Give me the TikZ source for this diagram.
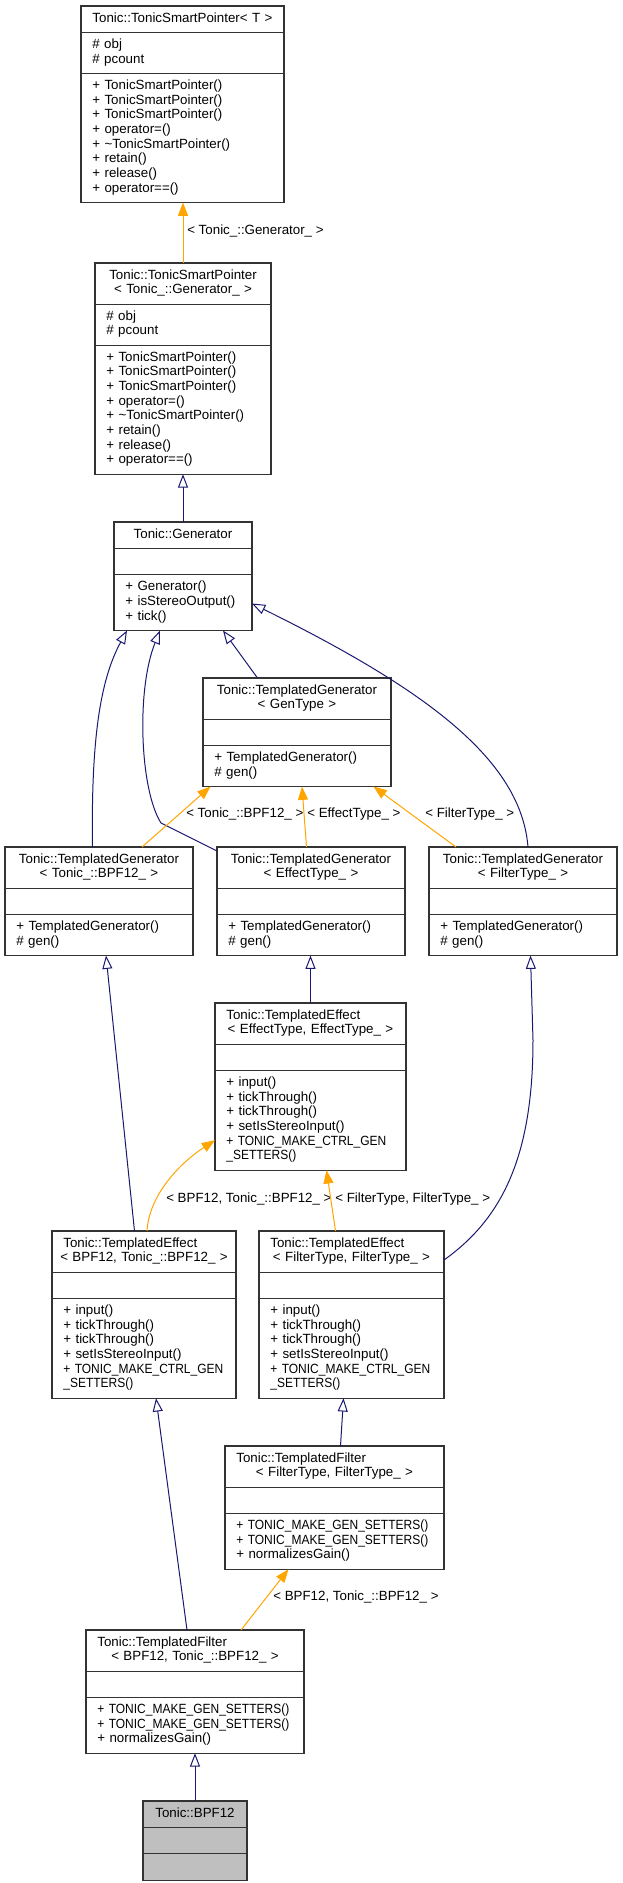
\documentclass[tikz,border=0pt]{standalone}
\usepackage{fontspec}
\setmainfont{Liberation Sans}
\newfontfamily\capsfont[FakeStretch=0.9]{Liberation Sans}
\usepackage{xcolor}
\usepackage{tikz}
\usetikzlibrary{shapes.multipart, arrows.meta, calc}

\definecolor{edgeblue}{RGB}{25,25,112}
\definecolor{edgeorange}{RGB}{255,165,0}
\newcommand{\ctrline}[1]{\makebox[\linewidth]{\strut #1}}

\begin{document}
\begin{tikzpicture}[
    x=0.75pt, y=-0.75pt,
    cls/.style={rectangle split, rectangle split parts=3, draw=black!80, line width=0.8pt,
                fill=white, inner xsep=8.5pt, inner ysep=4pt, outer sep=0pt,
                anchor=north west, align=left, font=\fontsize{10}{11}\selectfont},
    inh/.style={draw=edgeblue, line width=0.75pt, -{Triangle[open, length=10pt, width=7.5pt]}},
    tmpl/.style={draw=edgeorange, line width=0.75pt, -{Triangle[length=10pt, width=7.5pt]}},
    lbl/.style={anchor=west, inner sep=0pt, font=\fontsize{10}{11}\selectfont}
]
\useasboundingbox (0,0) rectangle (623,1883);

% class boxes
\node[cls, text width=135.25pt] (ptr) at (81,6) {\ctrline{Tonic::TonicSmartPointer< T >}
  \nodepart{two}\strut\# obj\\\# pcount\strut
  \nodepart{three}\strut + TonicSmartPointer()\\+ TonicSmartPointer()\\+ TonicSmartPointer()\\+ operator=()\\+ \textasciitilde TonicSmartPointer()\\+ retain()\\+ release()\\+ operator==()\strut};
\node[cls, text width=115pt] (ptrgen) at (95,263) {\ctrline{Tonic::TonicSmartPointer}\\\ctrline{< Tonic\_::Generator\_ >}
  \nodepart{two}\strut\# obj\\\# pcount\strut
  \nodepart{three}\strut + TonicSmartPointer()\\+ TonicSmartPointer()\\+ TonicSmartPointer()\\+ operator=()\\+ \textasciitilde TonicSmartPointer()\\+ retain()\\+ release()\\+ operator==()\strut};
\node[cls, text width=86.5pt] (gen) at (114,522) {\ctrline{Tonic::Generator}
  \nodepart{two}\strut
  \nodepart{three}\strut + Generator()\\+ isStereoOutput()\\+ tick()\strut};
\node[cls, text width=124pt] (tgen) at (203,678) {\ctrline{Tonic::TemplatedGenerator}\\\ctrline{< GenType >}
  \nodepart{two}\strut
  \nodepart{three}\strut + TemplatedGenerator()\\\# gen()\strut};
\node[cls, text width=124pt] (tgenbpf) at (5,847) {\ctrline{Tonic::TemplatedGenerator}\\\ctrline{< Tonic\_::BPF12\_ >}
  \nodepart{two}\strut
  \nodepart{three}\strut + TemplatedGenerator()\\\# gen()\strut};
\node[cls, text width=124pt] (tgeneff) at (217,847) {\ctrline{Tonic::TemplatedGenerator}\\\ctrline{< EffectType\_ >}
  \nodepart{two}\strut
  \nodepart{three}\strut + TemplatedGenerator()\\\# gen()\strut};
\node[cls, text width=124pt] (tgenfil) at (429,847) {\ctrline{Tonic::TemplatedGenerator}\\\ctrline{< FilterType\_ >}
  \nodepart{two}\strut
  \nodepart{three}\strut + TemplatedGenerator()\\\# gen()\strut};
\node[cls, text width=126.25pt] (teff) at (215,1003) {\strut Tonic::TemplatedEffect\\\ctrline{< EffectType, EffectType\_ >}
  \nodepart{two}\strut
  \nodepart{three}\strut + input()\\+ tickThrough()\\+ tickThrough()\\+ setIsStereoInput()\\{\capsfont +~TONIC\_MAKE\_CTRL\_GEN}\\{\capsfont\_SETTERS()}\strut};
\node[cls, text width=121pt] (teffbpf) at (52,1231) {\strut Tonic::TemplatedEffect\\\ctrline{< BPF12, Tonic\_::BPF12\_ >}
  \nodepart{two}\strut
  \nodepart{three}\strut + input()\\+ tickThrough()\\+ tickThrough()\\+ setIsStereoInput()\\{\capsfont +~TONIC\_MAKE\_CTRL\_GEN}\\{\capsfont\_SETTERS()}\strut};
\node[cls, text width=121.75pt] (tefffil) at (259,1231) {\strut Tonic::TemplatedEffect\\\ctrline{< FilterType, FilterType\_ >}
  \nodepart{two}\strut
  \nodepart{three}\strut + input()\\+ tickThrough()\\+ tickThrough()\\+ setIsStereoInput()\\{\capsfont +~TONIC\_MAKE\_CTRL\_GEN}\\{\capsfont\_SETTERS()}\strut};
\node[cls, text width=147.25pt] (tfilfil) at (225,1446) {\strut Tonic::TemplatedFilter\\\ctrline{< FilterType, FilterType\_ >}
  \nodepart{two}\strut
  \nodepart{three}\strut{\capsfont +~TONIC\_MAKE\_GEN\_SETTERS()}\\{\capsfont +~TONIC\_MAKE\_GEN\_SETTERS()}\\+ normalizesGain()\strut};
\node[cls, text width=146.5pt] (tfilbpf) at (86,1630) {\strut Tonic::TemplatedFilter\\\ctrline{< BPF12, Tonic\_::BPF12\_ >}
  \nodepart{two}\strut
  \nodepart{three}\strut{\capsfont +~TONIC\_MAKE\_GEN\_SETTERS()}\\{\capsfont +~TONIC\_MAKE\_GEN\_SETTERS()}\\+ normalizesGain()\strut};
\node[cls, text width=61pt, fill=black!25] (bpf) at (143,1801) {\ctrline{Tonic::BPF12}
  \nodepart{two}\strut
  \nodepart{three}\strut};

% template labels
\node[lbl] (lgen)    at (187,231)  {< Tonic\_::Generator\_ >};
\node[lbl] (lbpf)    at (186,814)  {< Tonic\_::BPF12\_ >};
\node[lbl] (leff)    at (307,814)  {< EffectType\_ >};
\node[lbl] (lfil)    at (425,814)  {< FilterType\_ >};
\node[lbl] (lbpfeff) at (166,1199) {< BPF12, Tonic\_::BPF12\_ >};
\node[lbl] (lfileff) at (335,1199) {< FilterType, FilterType\_ >};
\node[lbl] (lbpffil) at (273,1597) {< BPF12, Tonic\_::BPF12\_ >};

% inheritance
\draw[tmpl] (ptrgen.north) -- (ptrgen.north |- ptr.south);
\draw[inh] (gen.north) -- (gen.north |- ptrgen.south);
\draw[inh] ($(tgen.north)+(-39.5,0)$) -- ($(gen.south)+(40,0)$);
\draw[inh] ($(tgenbpf.north)+(-6.5,0)$) .. controls (91,740) and (100,680) .. ($(gen.south west)+(13,0)$);
\draw[inh] ($(tgeneff.north west)+(0,4)$) -- (161,823) .. controls (140,790) and (136,690) .. ($(gen.south)+(-23,0)$);
\draw[inh] ($(tgenfil.north)+(5,0)$) .. controls (521,760) and (427,690) .. ($(gen.south east)+(0,-27)$);
\draw[tmpl] ($(tgenbpf.north)+(43,0)$) -- ($(tgen.south west)+(7.5,0)$);
\draw[tmpl] ($(tgeneff.north)+(-4.5,0)$) -- ($(tgen.south)+(5,0)$);
\draw[tmpl] ($(tgenfil.north)+(-67,0)$) -- ($(tgen.south)+(76.5,0)$);
\draw[inh] (teff.north) -- (teff.north |- tgeneff.south);
\draw[inh] ($(teffbpf.north)+(-9.5,0)$) -- ($(tgenbpf.south)+(7,0)$);
\draw[inh] ($(tefffil.north east)+(0,29)$) .. controls (500,1220) and (533,1160) .. (533,1040) -- ($(tgenfil.south)+(7.5,0)$);
\draw[tmpl] ($(teffbpf.north)+(3,0)$) .. controls (149,1195) and (180,1163) .. ($(teff.south west)+(0,-30)$);
\draw[tmpl] ($(tefffil.north)+(-16,0)$) -- ($(teff.south)+(16,0)$);
\draw[inh] ($(tfilfil.north)+(6,0)$) -- ($(tefffil.south)+(-8,0)$);
\draw[inh] ($(tfilbpf.north)+(-8,0)$) -- ($(teffbpf.south)+(12,0)$);
\draw[tmpl] ($(tfilbpf.north)+(46,0)$) -- ($(tfilfil.south)+(-46,0)$);
\draw[inh] (bpf.north) -- (bpf.north |- tfilbpf.south);
\end{tikzpicture}
\end{document}
